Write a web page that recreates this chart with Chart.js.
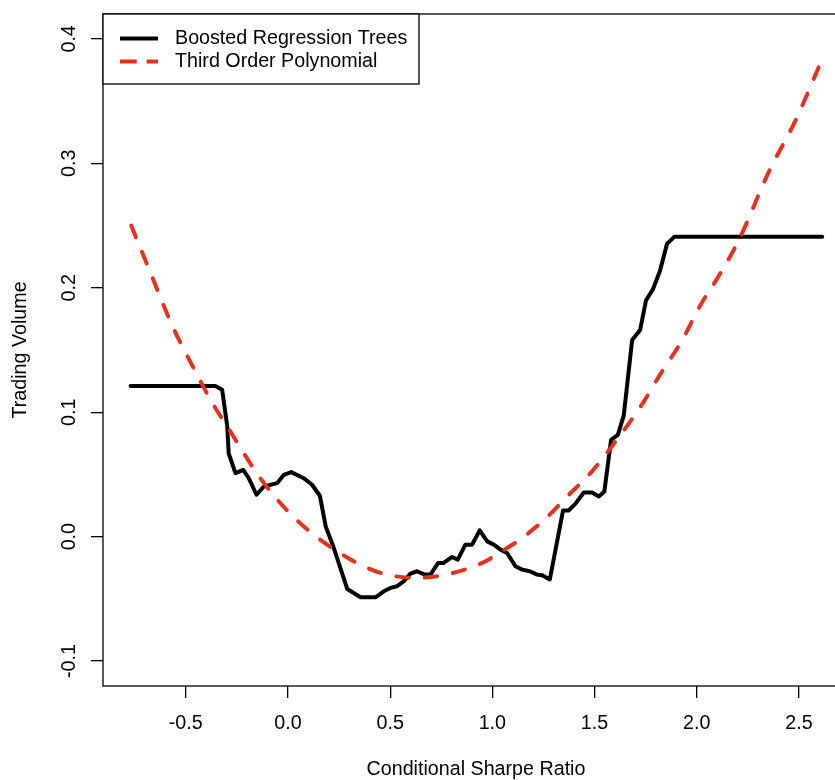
<!DOCTYPE html>
<html><head><meta charset="utf-8">
<script src="https://cdn.jsdelivr.net/npm/chart.js@4.4.1/dist/chart.umd.min.js"></script>
<style>
html,body{margin:0;padding:0;background:#fff;overflow:hidden;width:835px;height:780px;}
#wrap{position:absolute;left:0;top:0;width:851px;height:780px;}
</style></head><body>
<div id="wrap"><canvas id="c" width="851" height="780"></canvas></div>
<script>
// Boosted Regression Trees (partial dependence)
const brtX = [-0.770,-0.355,-0.322,-0.297,-0.290,-0.257,-0.219,-0.192,-0.154,-0.118,-0.053,-0.020,0.016,0.077,0.118,0.156,0.185,0.220,0.290,0.355,0.428,0.469,0.501,0.534,0.567,0.599,0.632,0.668,0.697,0.735,0.762,0.803,0.831,0.868,0.901,0.938,0.975,1.007,1.040,1.072,1.113,1.146,1.183,1.219,1.244,1.281,1.346,1.374,1.407,1.447,1.488,1.521,1.548,1.581,1.614,1.643,1.684,1.723,1.752,1.785,1.820,1.855,1.891,2.614];
const brtY = [0.121,0.121,0.118,0.0885,0.067,0.051,0.0537,0.047,0.0337,0.0403,0.043,0.0497,0.0519,0.047,0.0417,0.0329,0.008,-0.007,-0.042,-0.0487,-0.0487,-0.0439,-0.0412,-0.0398,-0.0358,-0.0297,-0.0278,-0.0305,-0.0305,-0.0211,-0.0211,-0.0163,-0.0184,-0.0064,-0.0064,0.0051,-0.0038,-0.0064,-0.0104,-0.0131,-0.0238,-0.0265,-0.0278,-0.0305,-0.031,-0.0345,0.0211,0.0211,0.0265,0.0355,0.0355,0.0323,0.0363,0.0778,0.0818,0.0975,0.158,0.166,0.190,0.1985,0.2135,0.2355,0.2410,0.2410];
// Third order polynomial fit
const polyX = [-0.767,-0.681,-0.570,-0.441,-0.379,-0.297,-0.135,-0.004,0.126,0.241,0.355,0.453,0.616,0.746,0.942,1.072,1.156,1.268,1.366,1.480,1.578,1.741,1.814,1.929,2.018,2.100,2.205,2.352,2.483,2.605];
const polyY = [0.250,0.2155,0.171,0.129,0.110,0.0885,0.047,0.021,0.0016,-0.0118,-0.0225,-0.0291,-0.0331,-0.0313,-0.0217,-0.0091,0.0002,0.0158,0.0323,0.0511,0.0711,0.1085,0.1285,0.158,0.186,0.2075,0.238,0.293,0.3344,0.3804];
const xTickValues = [-0.5,0,0.5,1,1.5,2,2.5];
const yTickValues = [-0.1,0,0.1,0.2,0.3,0.4];
const seriesNames = ['Boosted Regression Trees','Third Order Polynomial'];
const xTitle = 'Conditional Sharpe Ratio';
const yTitle = 'Trading Volume';

const RED = '#E4321F';
const FONT = {family:'"Liberation Sans", Arial, Helvetica, sans-serif', size:19.7};

const toPts = (xs, ys) => xs.map((x,i)=>({x:x, y:ys[i]}));

const boxPlugin = {
  id:'rbox',
  afterDraw(chart){
    const ctx = chart.ctx, a = chart.chartArea;
    ctx.save();
    ctx.strokeStyle = '#000'; ctx.lineWidth = 1.3;
    ctx.strokeRect(a.left, a.top, a.right - a.left, a.bottom - a.top);
    // legend
    const bx = a.left, by = a.top, bw = 316, bh = 70;
    ctx.fillStyle = '#fff';
    ctx.fillRect(bx, by, bw, bh);
    ctx.strokeRect(bx, by, bw, bh);
    const rows = [by + 24.5, by + 47.5];
    ctx.lineCap = 'butt';
    ctx.lineWidth = 4;
    ctx.strokeStyle = '#000';
    ctx.setLineDash([]);
    ctx.beginPath(); ctx.moveTo(bx + 17, rows[0]); ctx.lineTo(bx + 55, rows[0]); ctx.stroke();
    ctx.strokeStyle = RED;
    ctx.setLineDash([16.7, 10]);
    ctx.beginPath(); ctx.moveTo(bx + 17, rows[1]); ctx.lineTo(bx + 55, rows[1]); ctx.stroke();
    ctx.setLineDash([]);
    ctx.fillStyle = '#000';
    ctx.font = FONT.size + 'px ' + FONT.family;
    ctx.textBaseline = 'middle';
    ctx.textAlign = 'left';
    ctx.fillText(seriesNames[0], bx + 72, rows[0]);
    ctx.fillText(seriesNames[1], bx + 72, rows[1]);
    ctx.restore();
  }
};

new Chart(document.getElementById('c'), {
  type:'line',
  data:{
    datasets:[
      {label:seriesNames[1], data:toPts(polyX, polyY), borderColor:RED, borderWidth:4,
       borderDash:[12.5,16], borderCapStyle:'round', cubicInterpolationMode:'monotone',
       pointRadius:0, fill:false, order:1},
      {label:seriesNames[0], data:toPts(brtX, brtY), borderColor:'#000', borderWidth:4,
       tension:0, borderJoinStyle:'round', borderCapStyle:'round',
       pointRadius:0, fill:false, order:2}
    ]
  },
  options:{
    responsive:false, animation:false, devicePixelRatio:1,
    layout:{padding:{top:14, right:2, left:0, bottom:0}},
    plugins:{legend:{display:false}, tooltip:{enabled:false}},
    scales:{
      x:{
        type:'linear', min:-0.905, max:2.745,
        afterBuildTicks:(s)=>{ s.ticks = xTickValues.map(v=>({value:v})); },
        afterFit:(s)=>{ s.height = 94; s.paddingLeft = 0; s.paddingRight = 0; },
        grid:{display:true, drawOnChartArea:false, drawTicks:true, tickLength:12, color:'#000', lineWidth:1.3},
        border:{display:false},
        ticks:{font:FONT, color:'#000', padding:13.5, maxRotation:0, minRotation:0,
               callback:(v)=>Number(v).toFixed(1)},
        title:{display:true, text:xTitle, font:{...FONT, lineHeight:1.1}, color:'#000', padding:{top:0,bottom:0}}
      },
      y:{
        type:'linear', min:-0.12, max:0.42,
        afterBuildTicks:(s)=>{ s.ticks = yTickValues.map(v=>({value:v})); },
        afterFit:(s)=>{ s.width = 103; s.paddingTop = 0; s.paddingBottom = 0; },
        grid:{display:true, drawOnChartArea:false, drawTicks:true, tickLength:12, color:'#000', lineWidth:1.3},
        border:{display:false},
        ticks:{font:FONT, color:'#000', padding:4, minRotation:90, maxRotation:90, crossAlign:'center',
               callback:(v)=>Number(v).toFixed(1)},
        title:{display:true, text:yTitle, font:FONT, color:'#000', padding:{top:9,bottom:0}}
      }
    }
  },
  plugins:[boxPlugin]
});
</script>
</body></html>
